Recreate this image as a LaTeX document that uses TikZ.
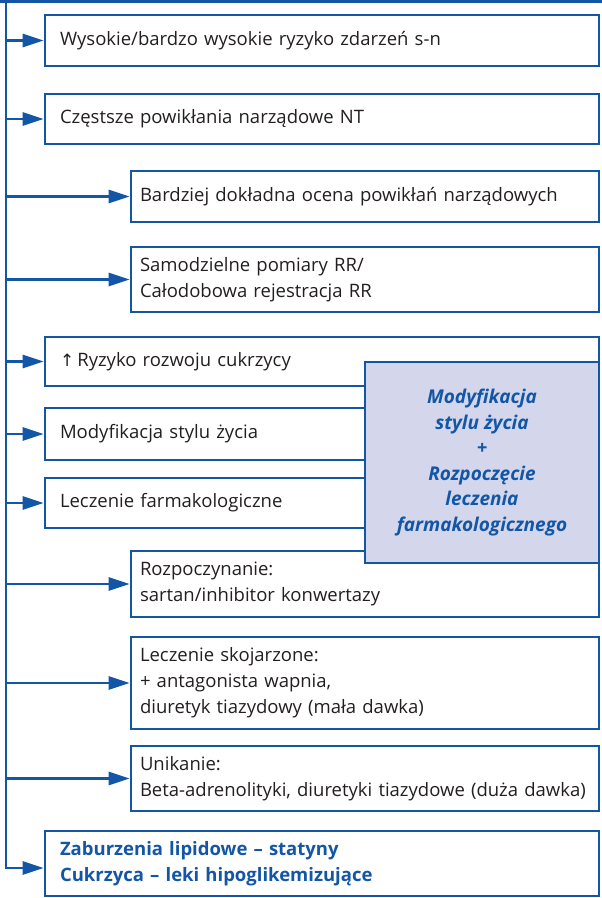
\documentclass[tikz,border=0pt]{standalone}
\usepackage{fontspec}
\setmainfont{Open Sans}
\newfontfamily\symf{DejaVu Sans}
\usetikzlibrary{arrows.meta}
\definecolor{mblue}{HTML}{1356A6}
\definecolor{mfill}{HTML}{D4D7EB}
\definecolor{mtext}{HTML}{231F20}
\begin{document}
\begin{tikzpicture}[x=1pt,y=-1pt,
  trunk/.style={draw=mblue,line width=3pt},
  arr/.style={draw=mblue,line width=2.6pt,-{Triangle[length=21pt,width=13pt]}},
  box/.style={draw=mblue,line width=2.6pt,fill=white,text=mtext,
    font=\fontsize{18.5}{26}\selectfont,align=left,inner ysep=0pt},
  lbox/.style={box,minimum width=554pt,inner xsep=15pt,text width=524pt},
  rbox/.style={box,minimum width=468pt,inner xsep=9pt,text width=450pt},
  shade/.style={draw=mblue,line width=2.6pt,fill=mfill,text=mblue,
    font=\fontsize{19}{25.5}\selectfont\bfseries\itshape,align=center,
    minimum width=234pt,minimum height=201pt,inner sep=0pt}]
\useasboundingbox (0,0) rectangle (602,898);
\fill[white] (0,0) rectangle (602,898);

\node[lbox,minimum height=51pt] (b1) at (322,40.5) {Wysokie/bardzo wysokie ryzyko zdarzeń s-n};
\node[lbox,minimum height=50pt] (b2) at (322,119) {Częstsze powikłania narządowe NT};
\node[rbox,minimum height=51pt] (b3) at (365,196.5) {Bardziej dokładna ocena powikłań narządowych};
\node[rbox,minimum height=65pt] (b4) at (365,279.5) {Samodzielne pomiary RR/\\Całodobowa rejestracja RR};
\node[lbox,minimum height=49pt] (b5) at (322,361.5) {{\symf\fontsize{17}{26}\selectfont ↑}\,Ryzyko rozwoju cukrzycy};
\node[lbox,minimum height=52pt] (b6) at (322,434) {Modyfikacja stylu życia};
\node[lbox,minimum height=50pt] (b7) at (322,503) {Leczenie farmakologiczne};
\node[rbox,minimum height=66pt] (b8) at (365,584) {Rozpoczynanie:\\sartan/inhibitor konwertazy};
\node[rbox,minimum height=92pt] (b9) at (365,683) {Leczenie skojarzone:\\+ antagonista wapnia,\\diuretyk tiazydowy (mała dawka)};
\node[rbox,minimum height=65pt] (b10) at (365,778.5) {Unikanie:\\Beta-adrenolityki, diuretyki tiazydowe (duża dawka)};
\node[lbox,minimum height=65pt,text=mblue,font=\fontsize{18.5}{26}\selectfont\bfseries] (b11) at (322,863.5) {Zaburzenia lipidowe – statyny\\Cukrzyca – leki hipoglikemizujące};
\node[shade] (sh) at (482,462.5) {Modyfikacja\\stylu życia\\+\\Rozpoczęcie\\leczenia\\farmakologicznego};

\coordinate (tl) at (0,1.5);
\coordinate (tr) at (602,1.5);
\coordinate (ttop) at (6,1.5);
\coordinate (tbot) at (6,868);
\draw[trunk] (tl) -- (tr);
\foreach \b in {b1,b2,b3,b4,b5,b6,b7,b8,b9,b10}
  \draw[arr] (ttop |- \b.west) -- (\b.west);
\draw[arr,line join=miter] (ttop) -- (tbot) -- (tbot -| b11.west);
\end{tikzpicture}
\end{document}
